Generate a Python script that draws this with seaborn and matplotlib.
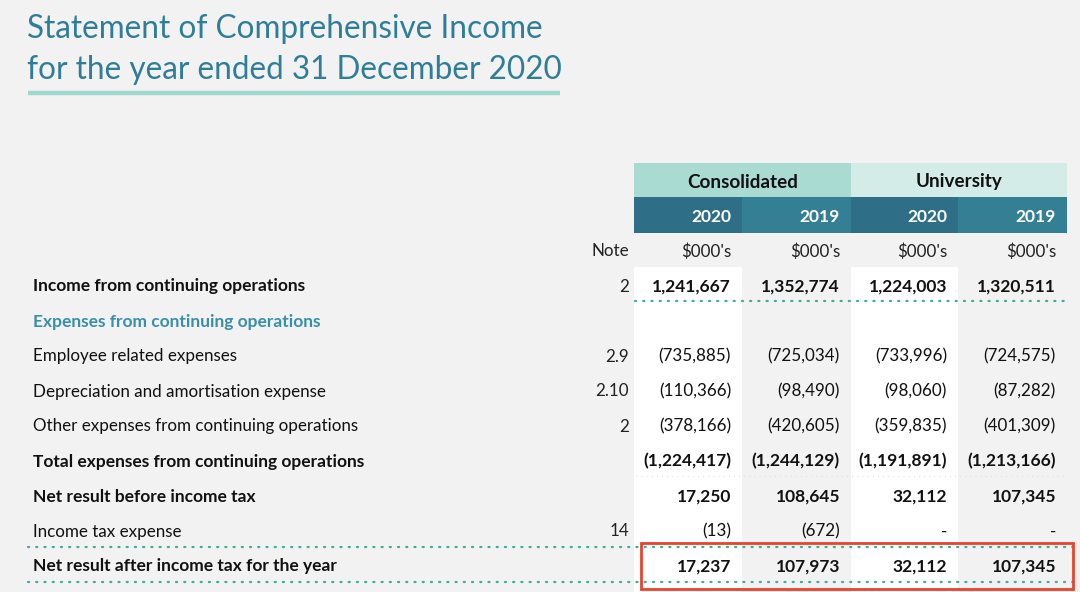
import matplotlib
matplotlib.use("Agg")
import matplotlib.pyplot as plt
from matplotlib.patches import Rectangle
import seaborn as sns
import pandas as pd

# ---------------- data ----------------
title_lines = ["Statement of Comprehensive Income", "for the year ended 31 December 2020"]
groups = ["Consolidated", "University"]
years = ["2020", "2019", "2020", "2019"]
units = ["$000's", "$000's", "$000's", "$000's"]
row_labels = [
    "Income from continuing operations",
    "Expenses from continuing operations",
    "Employee related expenses",
    "Depreciation and amortisation expense",
    "Other expenses from continuing operations",
    "Total expenses from continuing operations",
    "Net result before income tax",
    "Income tax expense",
    "Net result after income tax for the year",
]
notes = ["2", "", "2.9", "2.10", "2", "", "", "14", ""]
cons_2020 = [1241667, None, -735885, -110366, -378166, -1224417, 17250, -13, 17237]
cons_2019 = [1352774, None, -725034, -98490, -420605, -1244129, 108645, -672, 107973]
uni_2020 = [1224003, None, -733996, -98060, -359835, -1191891, 32112, 0, 32112]
uni_2019 = [1320511, None, -724575, -87282, -401309, -1213166, 107345, 0, 107345]
bold_rows = [True, False, False, False, False, True, True, False, True]
heading_rows = [False, True, False, False, False, False, False, False, False]

df = pd.DataFrame({"label": row_labels, "note": notes, "c20": cons_2020,
                   "c19": cons_2019, "u20": uni_2020, "u19": uni_2019,
                   "bold": bold_rows, "heading": heading_rows})
value_cols = ["c20", "c19", "u20", "u19"]

def fmt(v):
    if v is None or pd.isna(v):
        return ""
    v = int(v)
    if v == 0:
        return "-"
    if v < 0:
        return f"({-v:,})"
    return f"{v:,}"

# ---------------- style ----------------
sns.set_theme(style="white")
plt.rcParams["font.family"] = ["Lato", "DejaVu Sans"]

BG = "#f2f2f2"
TEAL_TXT = "#2f7d96"
TEAL_LINE = "#9fd8cc"
DOT = "#3aae96"
FS_B = 12.5
FS_R = 12.25

fig = plt.figure(figsize=(10.8, 5.92), dpi=100)
fig.patch.set_facecolor(BG)
ax = fig.add_axes([0, 0, 1, 1])
ax.set_xlim(0, 1080)
ax.set_ylim(592, 0)
ax.axis("off")
ax.set_facecolor(BG)

# title
ax.text(27, 29.5, title_lines[0], fontsize=22.7, color=TEAL_TXT, va="center", ha="left")
ax.text(27, 70, title_lines[1], fontsize=22.7, color=TEAL_TXT, va="center", ha="left")
ax.plot([28, 560], [93, 93], color=TEAL_LINE, lw=3.2, solid_capstyle="butt")

# columns
col_left = [634, 742, 851, 958]
col_right = [742, 851, 958, 1067]

# white column shading for 2020 columns
for i in (0, 2):
    ax.add_patch(Rectangle((col_left[i], 267), col_right[i] - col_left[i], 592 - 267,
                           facecolor="white", edgecolor="none", zorder=0))

# group header
grp_colors = ["#aadbd3", "#d3ece7"]
for g in range(2):
    x0 = col_left[2 * g]
    x1 = col_right[2 * g + 1]
    ax.add_patch(Rectangle((x0, 163), x1 - x0, 34, facecolor=grp_colors[g], edgecolor="none"))
    ax.text((x0 + x1) / 2, 182, groups[g], fontsize=13.6, fontweight="bold",
            color="#111111", ha="center", va="center")

year_colors = ["#2e6f87", "#357f94", "#2e6f87", "#357f94"]
for i, y in enumerate(years):
    ax.add_patch(Rectangle((col_left[i], 197), col_right[i] - col_left[i], 36,
                           facecolor=year_colors[i], edgecolor="none"))
    ax.text(col_right[i] - 11, 216.5, y, fontsize=12.5, fontweight="bold",
            color="white", ha="right", va="center")

# units row
ax.text(629, 251.5, "Note", fontsize=FS_R, color="#222222", ha="right", va="center")
for i, u in enumerate(units):
    ax.text(col_right[i] - 11, 251.5, u, fontsize=FS_R, color="#222222", ha="right", va="center")

# body rows
row_y = [286.5, 321.5, 356.5, 391.5, 426.5, 461.5, 496.5, 531.5, 566.5]
for r, row in df.iterrows():
    y = row_y[r]
    bold = bool(row["bold"]) or bool(row["heading"])
    weight = "bold" if bold else "normal"
    fs = FS_B if bold else FS_R
    color = "#3a8fa8" if row["heading"] else "#111111"
    ax.text(33, y, row["label"], fontsize=fs, fontweight=weight, color=color,
            ha="left", va="center")
    if row["note"]:
        ax.text(629, y, row["note"], fontsize=FS_R, color="#222222", ha="right", va="center")
    for i, c in enumerate(value_cols):
        s = fmt(row[c])
        if s:
            ax.text(col_right[i] - 11, y, s, fontsize=fs, fontweight=weight,
                    color="#111111", ha="right", va="center")

# dotted rule lines
dot_style = (0, (0.5, 3.2))
ax.plot([635, 1067], [301, 301], color=DOT, lw=1.6, linestyle=dot_style,
        dash_capstyle="round")
ax.plot([636, 1067], [476, 476], color="#dcdcdc", lw=1.0, linestyle=dot_style)
for yy in (547, 582):
    ax.plot([28, 1075], [yy, yy], color=DOT, lw=1.6, linestyle=dot_style,
            dash_capstyle="round")

# highlight box
ax.add_patch(Rectangle((641, 543), 1073 - 641, 46, facecolor="none",
                       edgecolor="#e8432f", lw=2.0, zorder=5))

fig.savefig("out.png", dpi=100, facecolor=BG)
